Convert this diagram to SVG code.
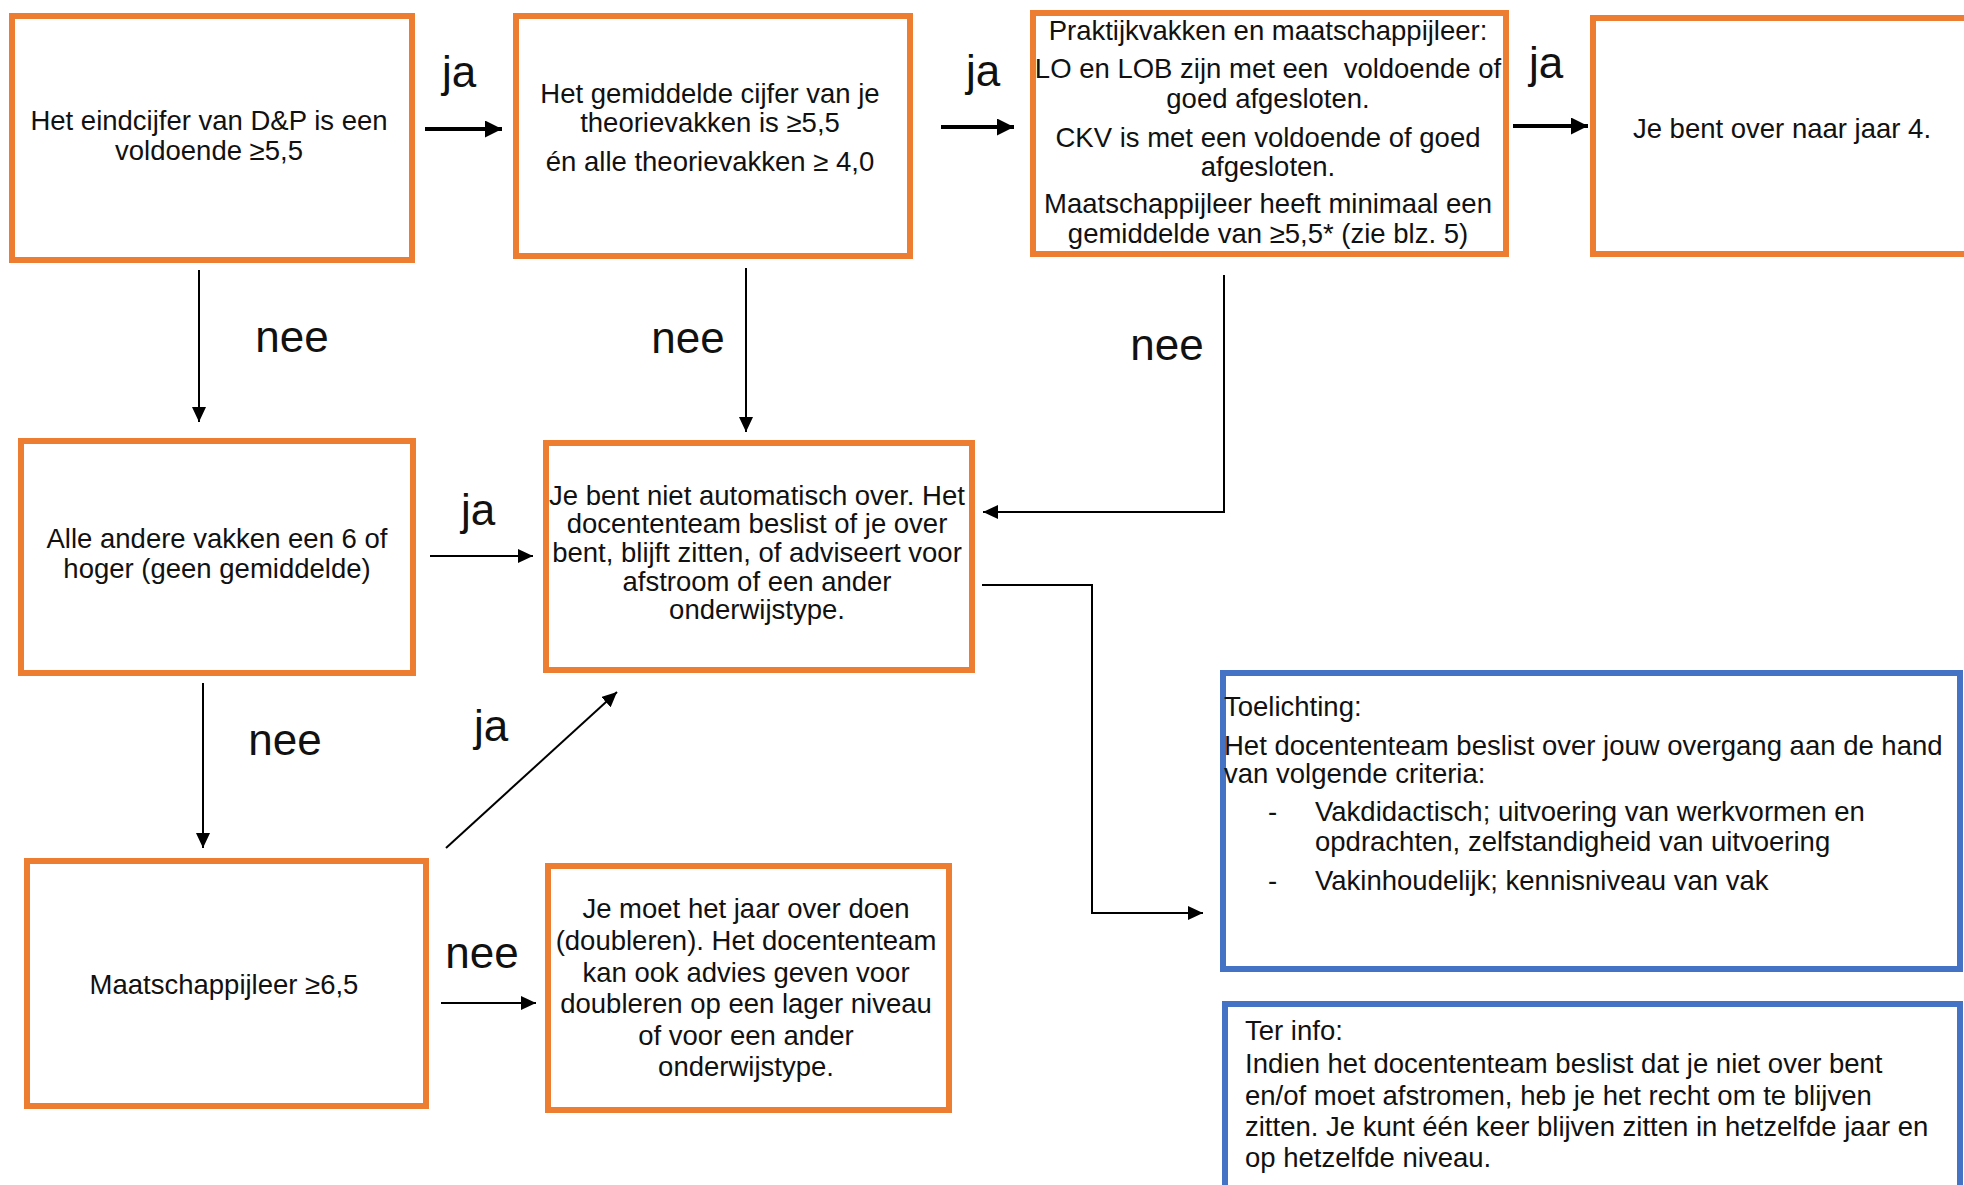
<svg xmlns="http://www.w3.org/2000/svg" width="1964" height="1185" viewBox="0 0 1964 1185">
<style>
  .box{fill:#fff;stroke:#ED7D31;stroke-width:6}
  .bbox{fill:#fff;stroke:#4472C4;stroke-width:6}
  text{font-family:"Liberation Sans",Arial,sans-serif;fill:#111}
  .t{font-size:27.5px;text-anchor:middle}
  .l{font-size:27.5px}
  .lab{font-size:44px;text-anchor:middle}
  .thick{stroke:#000;stroke-width:4;fill:none}
  .thin{stroke:#000;stroke-width:2;fill:none}
</style>
<defs>
  <marker id="ahT" viewBox="0 0 10 10" refX="10" refY="5" markerWidth="17" markerHeight="17" markerUnits="userSpaceOnUse" orient="auto"><path d="M0,0 L10,5 L0,10 z" fill="#000"/></marker>
  <marker id="ah" viewBox="0 0 10 10" refX="10" refY="5" markerWidth="15" markerHeight="14" markerUnits="userSpaceOnUse" orient="auto" preserveAspectRatio="none"><path d="M0,0 L10,5 L0,10 z" fill="#000"/></marker>
</defs>
<rect width="1964" height="1185" fill="#fff"/>

<g id="connectors">
  <line class="thick" x1="425" y1="129" x2="502" y2="129" marker-end="url(#ahT)"/>
  <line class="thick" x1="941" y1="127" x2="1014" y2="127" marker-end="url(#ahT)"/>
  <line class="thick" x1="1513" y1="126" x2="1588" y2="126" marker-end="url(#ahT)"/>
  <line class="thin" x1="199" y1="270" x2="199" y2="422" marker-end="url(#ah)"/>
  <line class="thin" x1="746" y1="268" x2="746" y2="432" marker-end="url(#ah)"/>
  <polyline class="thin" points="1224,275 1224,512 983,512" marker-end="url(#ah)"/>
  <line class="thin" x1="430" y1="556" x2="533" y2="556" marker-end="url(#ah)"/>
  <line class="thin" x1="203" y1="683" x2="203" y2="848" marker-end="url(#ah)"/>
  <line class="thin" x1="446" y1="848" x2="617" y2="692" marker-end="url(#ah)"/>
  <line class="thin" x1="441" y1="1003" x2="536" y2="1003" marker-end="url(#ah)"/>
  <polyline class="thin" points="982,585 1092,585 1092,913 1203,913" marker-end="url(#ah)"/>
  <text class="lab" x="459" y="87">ja</text>
  <text class="lab" x="983" y="86">ja</text>
  <text class="lab" x="1546" y="78">ja</text>
  <text class="lab" x="292" y="352">nee</text>
  <text class="lab" x="688" y="353">nee</text>
  <text class="lab" x="1167" y="360">nee</text>
  <text class="lab" x="478" y="525">ja</text>
  <text class="lab" x="285" y="755">nee</text>
  <text class="lab" x="491" y="741">ja</text>
  <text class="lab" x="482" y="968">nee</text>
</g>

<g id="n1">
  <rect class="box" x="12" y="16" width="400" height="244"/>
  <text class="t" x="209" y="130">Het eindcijfer van D&amp;P is een</text>
  <text class="t" x="209" y="160">voldoende ≥5,5</text>
</g>
<g id="n2">
  <rect class="box" x="516" y="16" width="394" height="240"/>
  <text class="t" x="710" y="103">Het gemiddelde cijfer van je</text>
  <text class="t" x="710" y="132">theorievakken is ≥5,5</text>
  <text class="t" x="710" y="171">én alle theorievakken ≥ 4,0</text>
</g>
<g id="n3">
  <rect class="box" x="1033" y="13" width="473" height="241"/>
  <text class="t" x="1268" y="40">Praktijkvakken en maatschappijleer:</text>
  <text class="t" x="1268" y="78" style="white-space:pre">LO en LOB zijn met een  voldoende of</text>
  <text class="t" x="1268" y="108">goed afgesloten.</text>
  <text class="t" x="1268" y="147">CKV is met een voldoende of goed</text>
  <text class="t" x="1268" y="176">afgesloten.</text>
  <text class="t" x="1268" y="213">Maatschappijleer heeft minimaal een</text>
  <text class="t" x="1268" y="243">gemiddelde van ≥5,5* (zie blz. 5)</text>
</g>
<g id="n4">
  <rect class="box" x="1593" y="18" width="380" height="236"/>
  <text class="t" x="1782" y="138">Je bent over naar jaar 4.</text>
</g>
<g id="n5">
  <rect class="box" x="21" y="441" width="392" height="232"/>
  <text class="t" x="217" y="548">Alle andere vakken een 6 of</text>
  <text class="t" x="217" y="578">hoger (geen gemiddelde)</text>
</g>
<g id="n6">
  <rect class="box" x="546" y="443" width="426" height="227"/>
  <text class="t" x="757" y="505">Je bent niet automatisch over. Het</text>
  <text class="t" x="757" y="533">docententeam beslist of je over</text>
  <text class="t" x="757" y="562">bent, blijft zitten, of adviseert voor</text>
  <text class="t" x="757" y="591">afstroom of een ander</text>
  <text class="t" x="757" y="619">onderwijstype.</text>
</g>
<g id="n7">
  <rect class="box" x="27" y="861" width="399" height="245"/>
  <text class="t" x="224" y="994">Maatschappijleer ≥6,5</text>
</g>
<g id="n8">
  <rect class="box" x="548" y="866" width="401" height="244"/>
  <text class="t" x="746" y="918">Je moet het jaar over doen</text>
  <text class="t" x="746" y="950">(doubleren). Het docententeam</text>
  <text class="t" x="746" y="982">kan ook advies geven voor</text>
  <text class="t" x="746" y="1013">doubleren op een lager niveau</text>
  <text class="t" x="746" y="1045">of voor een ander</text>
  <text class="t" x="746" y="1076">onderwijstype.</text>
</g>
<g id="toelichting">
  <rect class="bbox" x="1223" y="673" width="737" height="296"/>
  <text class="l" x="1224" y="716">Toelichting:</text>
  <text class="l" x="1224" y="755">Het docententeam beslist over jouw overgang aan de hand</text>
  <text class="l" x="1224" y="783">van volgende criteria:</text>
  <text class="l" x="1268" y="821">-</text>
  <text class="l" x="1315" y="821">Vakdidactisch; uitvoering van werkvormen en</text>
  <text class="l" x="1315" y="851">opdrachten, zelfstandigheid van uitvoering</text>
  <text class="l" x="1268" y="890">-</text>
  <text class="l" x="1315" y="890">Vakinhoudelijk; kennisniveau van vak</text>
</g>
<g id="terinfo">
  <rect class="bbox" x="1225" y="1004" width="735" height="220"/>
  <text class="l" x="1245" y="1040">Ter info:</text>
  <text class="l" x="1245" y="1073">Indien het docententeam beslist dat je niet over bent</text>
  <text class="l" x="1245" y="1105">en/of moet afstromen, heb je het recht om te blijven</text>
  <text class="l" x="1245" y="1136">zitten. Je kunt één keer blijven zitten in hetzelfde jaar en</text>
  <text class="l" x="1245" y="1167">op hetzelfde niveau.</text>
</g>
</svg>
